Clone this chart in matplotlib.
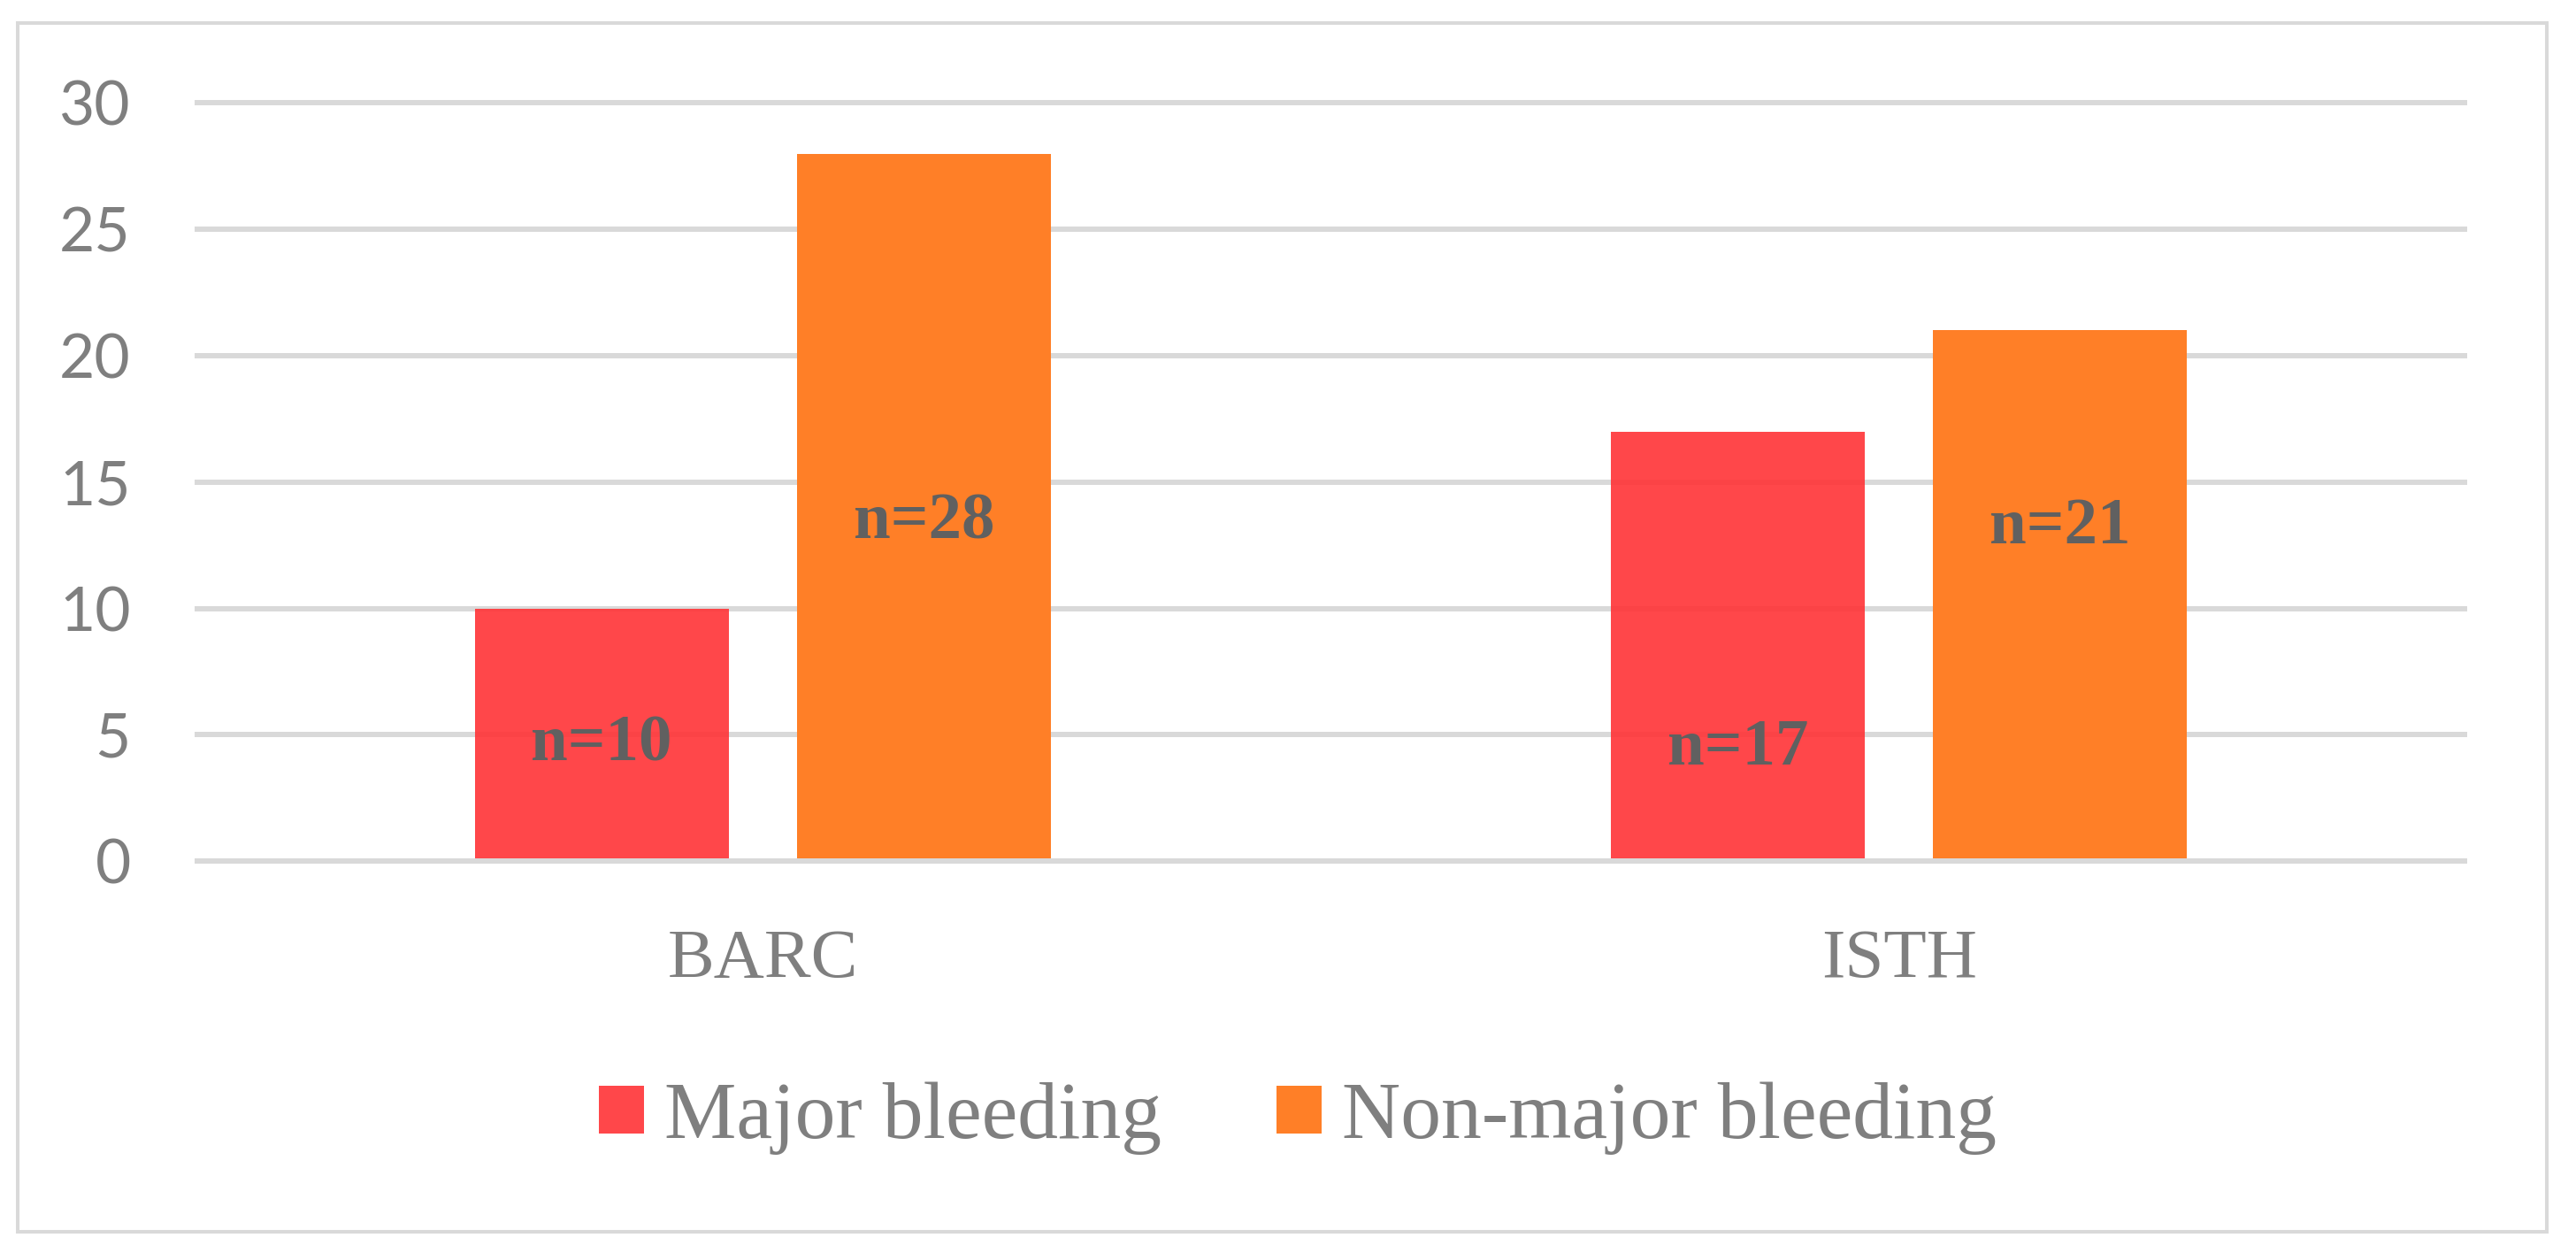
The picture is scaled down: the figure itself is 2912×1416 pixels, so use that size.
import numpy as np
import matplotlib
matplotlib.use("Agg")
import matplotlib.pyplot as plt
from matplotlib.patches import Patch, Rectangle

# ---- data ----
categories = ["BARC", "ISTH"]
series_names = ["Major bleeding", "Non-major bleeding"]
major = [10, 17]
non_major = [28, 21]
yticks = [0, 5, 10, 15, 20, 25, 30]
# data-label baselines (in value units) as placed in the original
major_label_y = [3.96, 3.82]
non_major_label_y = [12.78, 12.57]

RED = (1.0, 0.20, 0.212, 0.9)
ORANGE = "#FF7F27"
GRID = "#D9D9D9"
TICK_GRAY = "#7F7F7F"
LABEL_GRAY = "#606060"

fig = plt.figure(figsize=(29.12, 14.16), dpi=100)
ax = fig.add_axes([0.07555, 0.31285, 0.88221, 0.60488])

x = np.arange(len(categories))
w = 0.2235
off = 0.1417
ax.bar(x - off, major, w, color=RED, zorder=2, linewidth=0)
ax.bar(x + off, non_major, w, color=ORANGE, zorder=2, linewidth=0)

ax.set_xlim(-0.5, 1.5)
ax.set_ylim(0, 30)

# gridlines
ax.hlines([t for t in yticks if t != 0], -0.5, 1.5, color=GRID, lw=4.3,
          zorder=1, clip_on=False)
ax.hlines([0], -0.5, 1.5, color=GRID, lw=4.3, zorder=3, clip_on=False)

for s in ax.spines.values():
    s.set_visible(False)

ax.set_yticks(yticks)
ax.set_yticklabels([str(t) for t in yticks],
                   family=["Lato", "DejaVu Sans"], fontweight="normal",
                   fontsize=50, color=TICK_GRAY)
ax.set_xticks(x)
ax.set_xticklabels(categories, family=["Liberation Serif", "DejaVu Serif"],
                   fontsize=57, color=TICK_GRAY)
ax.tick_params(axis="y", length=0, pad=52)
ax.tick_params(axis="x", length=0, pad=55)

# data labels
for xi, v, ly in zip(x - off, major, major_label_y):
    ax.text(xi, ly, f"n={v}", ha="center", va="baseline", fontsize=54,
            fontweight="bold", family=["Liberation Serif", "DejaVu Serif"],
            color=LABEL_GRAY, zorder=4)
for xi, v, ly in zip(x + off, non_major, non_major_label_y):
    ax.text(xi, ly, f"n={v}", ha="center", va="baseline", fontsize=54,
            fontweight="bold", family=["Liberation Serif", "DejaVu Serif"],
            color=LABEL_GRAY, zorder=4)

# legend
handles = [Patch(facecolor=RED, edgecolor="none"),
           Patch(facecolor=ORANGE, edgecolor="none")]
fig.legend(handles, series_names, loc="center",
           bbox_to_anchor=(0.5038, 0.1073), ncol=2, frameon=False,
           prop={"family": ["Liberation Serif", "DejaVu Serif"], "size": 66},
           labelcolor=TICK_GRAY, handlelength=0.56, handleheight=0.54,
           handletextpad=0.25, columnspacing=1.42, borderpad=0)

# outer border
fig.patches.append(Rectangle((0.00687, 0.01695), 0.98163, 0.96469,
                             transform=fig.transFigure, fill=False,
                             edgecolor=GRID, lw=2.9))

fig.savefig("out.png", dpi=100, facecolor="white")
